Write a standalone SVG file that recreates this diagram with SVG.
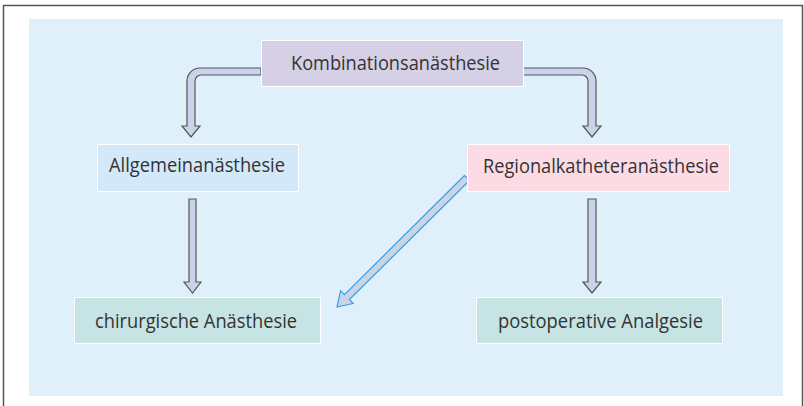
<svg xmlns="http://www.w3.org/2000/svg" width="804" height="406" viewBox="0 0 804 406">
<style>
.frame{fill:none;stroke:#555;stroke-width:1.5}
.box{stroke:#fff;stroke-width:1}
.lbl{font-family:"Open Sans","Noto Sans",sans-serif;font-size:20px;fill:#333;text-anchor:middle}
.arr{fill:#c9d3ea;stroke:#555;stroke-width:1.2;stroke-linejoin:miter}
.arrb{fill:#c9d3ea;stroke:#3a9fe0;stroke-width:1.2}
</style>
<rect width="804" height="406" fill="#fff"/>
<path class="frame" d="M3.5,406 V5.5 H802.5 V406"/>
<rect x="29" y="19" width="754" height="377" fill="#e0f0fa"/>
<g id="connectors">
<path class="arr" d="M261,68 H200 A13,13 0 0 0 187,81 V126 H182 L191,137 L200,126 H195 V81 A6,6 0 0 1 201,75 H261 Z"/>
<path class="arr" d="M523,68 H583 A13,13 0 0 1 596,81 V126 H601 L592,137 L583,126 H588 V81 A6,6 0 0 0 582,75 H523 Z"/>
<path class="arr" d="M189,199 H196 V282 H201 L192.5,293 L184,282 H189 Z"/>
<path class="arr" d="M588,199 H596 V282 H601 L592,293 L583,282 H588 Z"/>
<path class="arrb" d="M464.5,175.5 L344.4,294.6 L340.6,290.7 L337,307 L353.2,303.5 L349.4,299.6 L469.5,180.5 Z"/>
</g>
<g id="kombination">
<rect class="box" x="261.5" y="40.5" width="262" height="46" fill="#d5d0e6"/>
<text class="lbl" x="395.5" y="70" textLength="209" lengthAdjust="spacingAndGlyphs">Kombinationsanästhesie</text>
</g>
<g id="allgemein">
<rect class="box" x="97.5" y="144.5" width="201" height="47" fill="#d3e8f8"/>
<text class="lbl" x="197" y="172" textLength="176" lengthAdjust="spacingAndGlyphs">Allgemeinanästhesie</text>
</g>
<g id="regional">
<rect class="box" x="467.5" y="144.5" width="262" height="47" fill="#fddbe4"/>
<text class="lbl" x="601" y="172.5" textLength="236" lengthAdjust="spacingAndGlyphs">Regionalkatheteranästhesie</text>
</g>
<g id="chirurgisch">
<rect class="box" x="74.5" y="297.5" width="246" height="46" fill="#c6e4e3"/>
<text class="lbl" x="196" y="328" textLength="202" lengthAdjust="spacingAndGlyphs">chirurgische Anästhesie</text>
</g>
<g id="postoperativ">
<rect class="box" x="476.5" y="297.5" width="246" height="46" fill="#c6e4e3"/>
<text class="lbl" x="600.5" y="327.5" textLength="205" lengthAdjust="spacingAndGlyphs">postoperative Analgesie</text>
</g>
</svg>
